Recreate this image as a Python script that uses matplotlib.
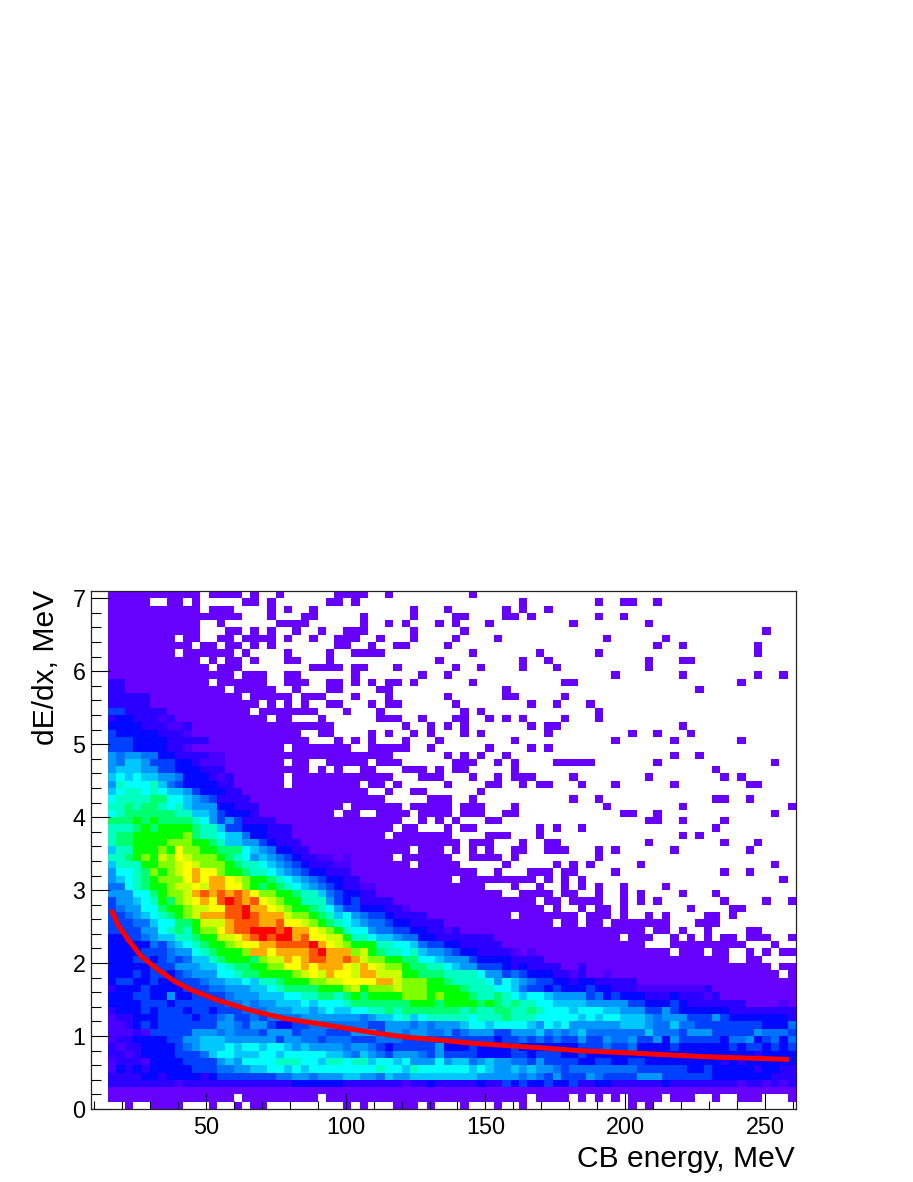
import numpy as np
import matplotlib
matplotlib.use("Agg")
import matplotlib.pyplot as plt
from matplotlib.colors import ListedColormap, BoundaryNorm
from matplotlib.ticker import MultipleLocator

plt.rcParams['font.family'] = ['Liberation Sans', 'DejaVu Sans']

X_TITLE = "CB energy, MeV"
Y_TITLE = "dE/dx, MeV"
N_COLS = 82
X_FIRST_EDGE = 15.0
X_BIN = 3.0
Y_BIN = 0.1
Y_TOP = 7.1

# occupied cells per row, top row first: an int is one column, a pair is a run
OCCUPIED = [
 [(0,10),(12,15),17,20,(27,30),33,43],
 [(0,4),(7,8),10,16,17,19,26,27,29,49,58,61,62,65],
 [(0,10),(12,14),19,21,24,36,40,47,49,52],
 [(0,15),19,23,24,30,36,41,42,47,48,50,58,61],
 [(0,10),13,(20,23),30,33,35,39,41,45,55,64],
 [(0,10),14,15,17,19,22,25,(28,30),36,42,78],
 [(0,7),9,10,13,14,(16,19),21,24,(27,29),32,36,41,46,59,66],
 [(0,9),11,12,14,15,17,19,27,28,31,34,35,40,65,68,77],
 [(0,7),(9,14),16,21,26,(29,32),43,51,58,77],
 [(0,10),12,14,15,17,21,22,26,39,49,52,64,68,69],
 [(0,11),(13,15),(24,27),29,30,34,41,44,49,53,64],
 [(0,14),(16,18),21,22,29,37,40,60,68,77,80],
 [(0,11),(13,18),(21,23),26,27,29,31,33,34,36,43,54,55,75],
 [(0,13),(15,19),22,26,27,32,33,47,70],
 [(0,15),(17,21),(23,25),29,33,40,47,48,54],
 [(0,17),19,21,23,26,27,31,33,34,41,50,53,57],
 [(0,16),(18,24),28,32,42,44,58],
 [(0,18),20,21,25,(32,34),37,41,42,45,47,49,54,58],
 [(0,26),35,38,40,42,50,52,53,68],
 [(0,22),25,26,31,33,36,38,42,44,52,62,65,69],
 [(0,23),27,29,31,35,39,48,60,67,75],
 [(0,20),(22,28),(31,35),38,45,50,52],
 [(0,33),40,42,44,47,67,70],
 [(0,20),22,23,(26,30),(32,34),(41,43),46,48,(53,57),65,79],
 [(0,23),25,27,30,31,(35,37),39,41,42,48,72],
 [(0,20),(22,33),(37,39),43,46,(48,50),55,64,73,75],
 [(0,20),(22,29),31,32,34,40,45,46,49,51,52,56,60,67,76,77],
 [(0,30),33,36,37,44],
 [(0,32),(38,40),43,55,58,72,73,76],
 [(0,27),(29,34),(36,40),(42,44),48,59,68,81],
 [(0,26),28,29,(32,35),(37,40),(42,44),47,48,61,62,65,79],
 [(0,34),37,39,41,45,46,64,65,68,73],
 [(0,33),35,36,40,42,43,51,53,56,72],
 [(0,32),(34,40),(45,47),51,68,70],
 [(0,41),(43,45),49,52,53,64,73,77],
 [(0,35),(37,39),41,43,45,48,49,(52,54),58,60,67,76],
 [(0,33),(35,40),(43,46),48,58],
 [(0,35),(37,41),47,53,55,57,63,79],
 [(0,43),46,(50,52),54,55,60,73,76],
 [(0,40),(42,50),52,54,56,80],
 [(0,44),48,51,54,56,58,61,66],
 [(0,46),(49,52),54,55,58,61,63,68,72],
 [(0,50),52,53,(55,58),61,63,65,73,78,81],
 [(0,51),53,56,58,59,61,69,74,75],
 [(0,47),(49,55),(57,59),61,64,66,71,72,74],
 [(0,52),54,55,57,58,(60,66),(70,72)],
 [(0,63),65,66,68,71,76,77],
 [(0,60),(62,64),67,69,71,73,74,(76,78),81],
 [(0,63),(67,75),79],
 [(0,66),(68,70),72,73,76,78,80,81],
 [(0,73),76,77],
 [(0,78),80,81],
 [(0,79),81],
 [(0,81)],[(0,81)],[(0,81)],[(0,81)],[(0,81)],[(0,81)],[(0,81)],[(0,81)],
 [(0,81)],[(0,81)],[(0,81)],[(0,81)],[(0,81)],[(0,81)],[(0,81)],
 [(0,81)],
 [(0,14),(16,24),(26,49),(51,54),56,58,60,(62,65),(67,69),72,(75,77),81],
 [2,(5,8),12,15,17,18,28,30,34,35,36,38,42,46,49,62,64],
]

# colour level per row (0-based row from the top), columns 0-27
LEVELS_LEFT = {
 12:"33",13:"33",14:"33333",15:"33333",16:"5533333",17:"34433323",18:"4444333223",
 19:"5444443332",20:"555444433333",21:"5554444332",22:"76776644333322",
 23:"76887555443222",24:"78887755444333",25:"898988776444323",26:"7a999a865444433",
 27:"89aa9a9887544433",28:"9aaaabb9987653333",29:"aababba9a877744333",
 30:"9abbbbbbaa88754443",31:"bbbcbcbbbba975753333",32:"aaabcbccccbaa855444333",
 33:"abbccccccdbaa988644333",34:"abbccccdddccba887754333",35:"8aacccdcfddccbbb98764433",
 36:"aabcdcedfedddcba97876543322",37:"8aaaccddefedddcbaa9876543332",
 38:"799abdcdefgffdccbaa987654433",39:"789abcdddfgfggfedccba9876544",
 40:"669abccdeefeggffdcbcba987654",41:"77799bcddeghghghgfddccbaa865",
 42:"57789acbdefgfhihghfedccaaa75",43:"567799bccdeeffhhiggfedccba97",
 44:"556789abcdeggghhihgggeddcba8",45:"55566899bbceeeghhhgghffedcba",
 46:"5555779abacddfghhiiihiggfedc",47:"44556788aabcceefghihiighffee",
 48:"4444465789abccdeffgghhhhigfe",49:"44445556779abcccdggfgggghigg",
 50:"444554565688abcccbdeegfghhgg",51:"44444555777889abbccddffgfggg",
 52:"444545545677799abbccccdefegf",53:"455445445556778898aabcccddee",
 54:"34445444455566777889abbbbccc",55:"44455447445555677788899aabba",
 56:"4444555455555566767788898999",57:"3444545554554555666777887898",
 58:"2334445555455675565666677777",59:"2234545555555776577544556666",
 60:"2223255555777676665777566655",61:"2334444557788877777757766566",
 62:"3233444456788898998998787777",63:"3323444455568998889989999988",
 64:"23332444455557879999aaa998aa",65:"2434344444555667788998989999",
 66:"3333443444434555555566776777",67:"3333333323333333333333444444",
}
# columns 28-55
LEVELS_MID = {
 36:"2",37:"2",38:"3",39:"33",40:"3322",41:"4433",42:"453333",43:"55444332",
 44:"9765543333",45:"987665443333",46:"a9976655443323",47:"caa988766443333333",
 48:"dcccaa9986554433333",49:"gdecbaa9a87765443333212",50:"hgeddccbb998777544443333",
 51:"fegfeddcbbaa98775554343333",52:"feggeeeccbbbaaaa977565444332",
 53:"ffffggedddccbaaaa97987655443",54:"decdddedddccccbaaa9986554544",
 55:"bcbccccdddcdcccbaaba98998777",56:"abbbbbbbcccbccccbcbabaa99888",
 57:"899aababbbbbbbabaabbaaba9998",58:"7767889a89aaaaa9aaabaaa99999",
 59:"6665577767677789989999879897",60:"5777577677667567775577786767",
 61:"6555666555555555554556565655",62:"6776545555574445444454444444",
 63:"7687657776575555444455455544",64:"9aa8998977797886787766575555",
 65:"9999a998a9999998987787877656",66:"8877687788888888777776765755",
 67:"3333333233433333433545445445",
}
# columns 56-81
LEVELS_RIGHT = {
 51:"3",52:"3112",53:"4433333",54:"4544333222222223",55:"75645444333433323",
 56:"87777755444543333333111121",57:"99988777557544444433333333",
 58:"89899888767775557544444443",59:"77777888766866555555554446",
 60:"86666666866657775555576665",61:"75576675574755555466745646",
 62:"55565564444544444454554545",63:"54444444444444444444434444",
 64:"44554455444444444343444444",65:"66666665555554454444434433",
 66:"57655557775555554444444333",67:"33443333334333333332332323",
}

# fitted curve
CURVE_E = [16.3,18.7,22.3,27.0,33.0,38.9,44.9,54.4,66.3,78.2,90.1,99.6,109.8,121.7,
           133.6,145.5,157.4,169.3,183.6,203.8,227.6,258.6]
CURVE_DEDX = [2.73,2.52,2.32,2.09,1.91,1.75,1.63,1.49,1.35,1.24,1.17,1.11,1.047,0.984,
              0.946,0.90,0.87,0.84,0.80,0.764,0.718,0.68]

PALETTE = ['#6600ff','#4a00ff','#2c00ff','#0008ff','#0040ff','#0070ff','#0098ff','#00c8ff',
           '#00ffff','#00ffc0','#00ff70','#00ff00','#80ff00','#ccff00','#ffff00','#ffaa00',
           '#ff5500','#ff0000']

n_rows = len(OCCUPIED)
Z = np.zeros((n_rows, N_COLS))
for r, row in enumerate(OCCUPIED):
    for item in row:
        if isinstance(item, tuple):
            Z[r, item[0]:item[1] + 1] = 1
        else:
            Z[r, item] = 1
for table, offset in ((LEVELS_LEFT, 0), (LEVELS_MID, 28), (LEVELS_RIGHT, 56)):
    for r, text in table.items():
        for i, ch in enumerate(text):
            if offset + i < N_COLS and Z[r, offset + i] > 0:
                Z[r, offset + i] = int(ch, 36)

x_edges = X_FIRST_EDGE + X_BIN * np.arange(N_COLS + 1)
y_edges = Y_TOP - Y_BIN * np.arange(n_rows + 1)

W, H = 913, 1182
fig = plt.figure(figsize=(W / 100, H / 100), dpi=100)
ax = fig.add_axes([91 / W, 1 - 1109 / H, 705 / W, 518 / H])

cmap = ListedColormap(PALETTE)
norm = BoundaryNorm(np.arange(0.5, 19.5), cmap.N)
ax.pcolormesh(x_edges, y_edges, np.ma.masked_equal(Z, 0), cmap=cmap, norm=norm,
              antialiased=True, linewidth=0)
ax.plot(CURVE_E, CURVE_DEDX, color='#ff0000', lw=3.6, solid_capstyle='butt')

ax.set_xlim(9, 261)
ax.set_ylim(0, Y_TOP)
ax.xaxis.set_major_locator(MultipleLocator(50))
ax.xaxis.set_minor_locator(MultipleLocator(10))
ax.yaxis.set_major_locator(MultipleLocator(1))
ax.yaxis.set_minor_locator(MultipleLocator(0.2))
ax.tick_params(axis='x', which='major', direction='in', length=11.5, width=0.8, labelsize=16.8, pad=5)
ax.tick_params(axis='x', which='minor', direction='in', length=5.8, width=0.8)
ax.tick_params(axis='y', which='major', direction='in', length=14, width=0.8, labelsize=16.8, pad=4)
ax.tick_params(axis='y', which='minor', direction='in', length=7, width=0.8)
for s in ax.spines.values():
    s.set_linewidth(0.9)
    s.set_color('#222222')

fig.text(795 / W, 1 - 1159 / H, X_TITLE, ha='right', va='center', fontsize=21.6)
fig.text(46 / W, 1 - 590 / H, Y_TITLE, ha='center', va='top', rotation=90, fontsize=21.6)

fig.savefig('out.png', dpi=100)
